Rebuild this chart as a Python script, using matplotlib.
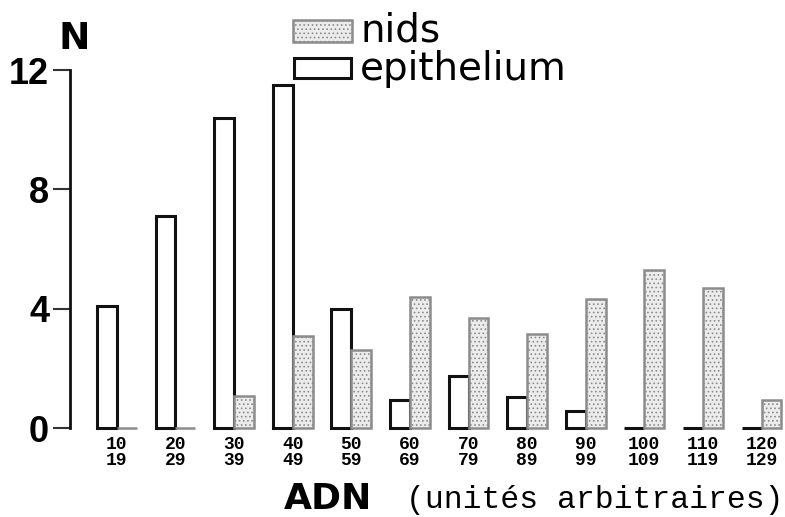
import matplotlib.pyplot as plt
from matplotlib.patches import Rectangle

# DNA content classes and counts per class
bins = ['10\n19', '20\n29', '30\n39', '40\n49', '50\n59', '60\n69',
        '70\n79', '80\n89', '90\n99', '100\n109', '110\n119', '120\n129']
epithelium = [4.1, 7.1, 10.4, 11.5, 4.0, 0.95, 1.75, 1.05, 0.57, 0, 0, 0]
nids = [0, 0, 1.07, 3.1, 2.6, 4.4, 3.7, 3.15, 4.33, 5.3, 4.7, 0.95]
yticks = [0, 4, 8, 12]

W, H = 785, 517
plt.rcParams['hatch.linewidth'] = 0.7
plt.rcParams['hatch.color'] = '#9c9c9c'

epi_style = dict(facecolor='white', edgecolor='#111111', linewidth=2.2)
nid_style = dict(facecolor='#ececec', edgecolor='#8c8c8c', linewidth=1.8, hatch='....')

fig = plt.figure(figsize=(W / 100, H / 100), dpi=100)
ax = fig.add_axes([70 / W, 89 / H, 715 / W, 358 / H])

x = list(range(len(bins)))
w = 0.34
ax.bar([i - w / 2 for i in x], epithelium, width=w, clip_on=False, **epi_style)
ax.bar([i + w / 2 for i in x], nids, width=w, clip_on=False, **nid_style)

ax.set_xlim(-0.80, 11.40)
ax.set_ylim(0, 12)

for side in ['top', 'right', 'bottom']:
    ax.spines[side].set_visible(False)
ax.spines['left'].set_linewidth(2)
ax.spines['left'].set_color('#111111')

ax.set_yticks(yticks)
ax.set_yticklabels([str(t) for t in yticks], fontsize=26, family='Liberation Sans',
                   weight='bold')
ax.tick_params(axis='y', length=12, width=1.5, pad=3, color='#333333')

ax.set_xticks(x)
ax.set_xticklabels(bins, fontsize=13, family='Liberation Mono', weight='bold',
                   linespacing=0.9)
ax.tick_params(axis='x', length=0, pad=6)

# axis titles
fig.text(74 / W, 1 - 39 / H, 'N', fontsize=27, weight='bold', family='DejaVu Sans',
         ha='center', va='center')
fig.text(372 / W, 1 - 509 / H, 'ADN', fontsize=26, weight='bold', family='DejaVu Sans',
         ha='right', va='baseline')
fig.text(406 / W, 1 - 508 / H, '(unités arbitraires)', fontsize=22.6,
         family='Liberation Mono', ha='left', va='baseline')

# legend
fig.add_artist(Rectangle((293 / W, 1 - 42 / H), 59 / W, 22 / H,
                         transform=fig.transFigure, **nid_style))
fig.add_artist(Rectangle((294 / W, 1 - 78 / H), 57 / W, 20 / H,
                         transform=fig.transFigure, **epi_style))
fig.text(360 / W, 1 - 42 / H, 'nids', fontsize=28, family='DejaVu Sans',
         ha='left', va='baseline')
fig.text(360 / W, 1 - 80 / H, 'epithelium', fontsize=28, family='DejaVu Sans',
         ha='left', va='baseline')

fig.savefig('out.png', dpi=100, facecolor='white')
